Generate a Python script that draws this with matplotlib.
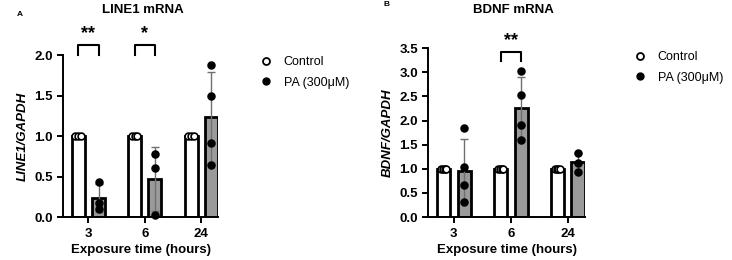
import numpy as np
import matplotlib.pyplot as plt
from matplotlib.lines import Line2D

plt.rcParams["font.family"] = ["Liberation Sans", "DejaVu Sans"]

TIMES = ["3", "6", "24"]

# replicate values (normalised to control)
LINE1_CTRL = [[1.0, 1.0, 1.0], [1.0, 1.0, 1.0], [1.0, 1.0, 1.0]]
LINE1_PA = [[0.43, 0.17, 0.10], [0.78, 0.61, 0.03], [1.88, 1.49, 0.91, 0.64]]
BDNF_CTRL = [[1.0, 1.0, 1.0, 1.0], [1.0, 1.0, 1.0, 1.0], [1.0, 1.0, 1.0, 1.0]]
BDNF_PA = [[1.84, 1.03, 0.66, 0.31], [3.03, 2.52, 1.90, 1.60], [1.33, 1.13, 0.94]]

# significance: (group index, label)
LINE1_SIG = [(0, "**"), (1, "*")]
BDNF_SIG = [(1, "**")]

OFF = 0.18
WIDTH = 0.23
GRAY = "#9a9a9a"


def draw_panel(ax, ctrl, pa, ymax, step, ylabel, sig, sig_y, sig_h):
    x = np.arange(len(TIMES))
    for i in range(len(TIMES)):
        for vals, dx, face, dot_face in [(ctrl[i], -OFF, "white", "white"),
                                         (pa[i], OFF, GRAY, "black")]:
            v = np.array(vals)
            m = v.mean()
            sd = v.std(ddof=1)
            xc = x[i] + dx
            ax.bar(xc, m, width=WIDTH, color=face, edgecolor="black",
                   linewidth=2.0, zorder=2)
            if sd > 0:
                ax.errorbar(xc, m, yerr=sd, color="#707070", lw=1,
                            capsize=3, capthick=1, zorder=3)
            jit = np.linspace(-0.05, 0.05, len(v)) if np.all(v == v[0]) else np.zeros(len(v))
            ax.scatter(xc + jit, v, s=24, facecolor=dot_face, edgecolor="black",
                       linewidth=1.2, zorder=4, clip_on=False)

    for g, lab in sig:
        x0, x1 = x[g] - OFF, x[g] + OFF
        ax.plot([x0, x0, x1, x1], [sig_y, sig_y + sig_h, sig_y + sig_h, sig_y],
                color="black", lw=1.5, clip_on=False)
        ax.text(x[g], sig_y + sig_h * 1.3, lab, ha="center", va="bottom",
                fontsize=13, fontweight="bold", clip_on=False)

    ax.set_xlim(-0.45, 2.3)
    ax.set_ylim(0, ymax)
    ticks = np.arange(0, ymax + 0.01, step)
    ax.set_yticks(ticks)
    ax.set_yticklabels([f"{t:.1f}" for t in ticks])
    ax.set_xticks(x)
    ax.set_xticklabels(TIMES)
    for t in ax.get_xticklabels() + ax.get_yticklabels():
        t.set_fontweight("bold")
        t.set_fontsize(9.5)
    ax.spines[["top", "right"]].set_visible(False)
    ax.spines[["left", "bottom"]].set_linewidth(1.4)
    ax.tick_params(width=1.4, length=4)
    ax.set_xlabel("Exposure time (hours)", fontsize=9.5, fontweight="bold", labelpad=3)
    ax.set_ylabel(ylabel, fontsize=9.5, fontweight="bold", style="italic")


fig = plt.figure(figsize=(7.32, 2.6), dpi=100)
ax_a = fig.add_axes([0.086, 0.165, 0.212, 0.623])
ax_b = fig.add_axes([0.585, 0.165, 0.214, 0.65])

draw_panel(ax_a, LINE1_CTRL, LINE1_PA, 2.0, 0.5, "LINE1/GAPDH",
           LINE1_SIG, 2.0, 0.12)
draw_panel(ax_b, BDNF_CTRL, BDNF_PA, 3.5, 0.5, "BDNF/GAPDH",
           BDNF_SIG, 3.24, 0.18)

fig.text(143 / 732, 1 - 10 / 260, "LINE1 mRNA", fontsize=9.5, fontweight="bold",
         ha="center", va="center")
fig.text(513 / 732, 1 - 10 / 260, "BDNF mRNA", fontsize=9.5, fontweight="bold",
         ha="center", va="center")
fig.text(17 / 732, 1 - 15 / 260, "A", fontsize=6, fontweight="bold", va="center")
fig.text(383 / 732, 1 - 5 / 260, "B", fontsize=6, fontweight="bold", va="center")

handles = [
    Line2D([], [], ls="none", marker="o", ms=5, mfc="white", mec="black", mew=1.3, label="Control"),
    Line2D([], [], ls="none", marker="o", ms=5, mfc="black", mec="black", label="PA (300\u03bcM)"),
]
for bx, by in [(260 / 732, 1 - 56 / 260), (634 / 732, 1 - 51 / 260)]:
    fig.legend(handles=handles, loc="upper left", bbox_to_anchor=(bx, by),
               frameon=False, fontsize=9, handlelength=1.0, handletextpad=0.9,
               labelspacing=0.7, borderaxespad=0, borderpad=0)

fig.savefig("out.png", dpi=100)
